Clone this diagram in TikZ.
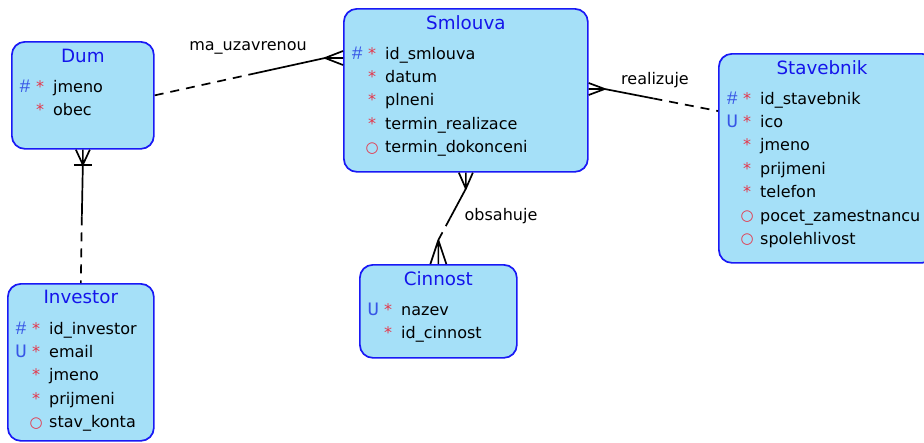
\documentclass[tikz,border=0pt]{standalone}
\usepackage{fontspec}
\setmainfont{DejaVu Sans}
\newfontfamily\keyfont{Liberation Mono}
\usetikzlibrary{calc}
\definecolor{entfill}{RGB}{165,224,248}
\definecolor{entline}{RGB}{25,25,245}
\definecolor{ttlblue}{RGB}{20,20,235}
\definecolor{keyblue}{RGB}{55,85,230}
\definecolor{mandred}{RGB}{228,55,75}
\tikzset{%
    ent/.style={draw=entline, fill=entfill, line width=1.7pt, rounded corners=13pt, anchor=north west, inner sep=0pt},
    ttl/.style={anchor=base, text=ttlblue, inner sep=0pt, font=\fontsize{18.3}{20}\selectfont},
    att/.style={anchor=base west, inner sep=0pt, font=\fontsize{16}{18}\selectfont},
    mk/.style={anchor=base west, inner sep=0pt, font=\fontsize{16}{18}\selectfont},
    lbl/.style={inner sep=1pt, font=\fontsize{16}{18}\selectfont},
    rel/.style={line width=1.7pt},
    relo/.style={line width=1.7pt, dash pattern=on 9pt off 7pt},
}
\newcommand{\pk}{\makebox[15pt]{\color{keyblue}\keyfont\fontsize{19}{19}\selectfont\#}}
\newcommand{\uk}{\makebox[15pt]{\color{keyblue}\keyfont\fontsize{19}{19}\selectfont U}}
\newcommand{\nk}{\makebox[15pt]{}}
\newcommand{\mand}{\makebox[15pt]{\color{mandred}*}}
\newcommand{\optn}{\makebox[15pt]{\color{mandred}\fontsize{15}{15}\selectfont\raisebox{0.5pt}{○}}}
% rows of one entity: #1 box name, #2 list key/text
\newcommand{\attrows}[2]{%
    \foreach \k/\t [count=\i] in {#2} {
        \node[mk] (#1-m\i) at ([xshift=6.5pt, yshift={-51pt-23.4pt*(\i-1)}]#1.north west) {\k};
        \node[att] (#1-a\i) at ([xshift=42pt, yshift={-51pt-23.4pt*(\i-1)}]#1.north west) {\t};
    }}
\newcommand{\crow}[4]{\draw[rel] (#1) -- (#2) (#1) -- ([#3]#2) (#1) -- ([#4]#2);}

\begin{document}
\begin{tikzpicture}[x=1pt, y=-1pt]
    \clip (0,0) rectangle (924,442);
    % entities
    \node[ent, minimum width=142pt, minimum height=107pt] (dum) at (11,41) {};
    \node[ent, minimum width=244pt, minimum height=163pt] (smlouva) at (343,8) {};
    \node[ent, minimum width=216pt, minimum height=209pt] (stavebnik) at (718,53) {};
    \node[ent, minimum width=146pt, minimum height=157pt] (investor) at (7,283) {};
    \node[ent, minimum width=157pt, minimum height=93pt] (cinnost) at (359,264) {};
    \node[ttl] (dum-t) at ([yshift=-21pt]dum.north) {Dum};
    \node[ttl] (smlouva-t) at ([yshift=-21pt]smlouva.north) {Smlouva};
    \node[ttl] (stavebnik-t) at ([yshift=-21pt]stavebnik.north west) [xshift=104pt] {Stavebnik};
    \node[ttl] (investor-t) at ([yshift=-20pt]investor.north) {Investor};
    \node[ttl] (cinnost-t) at ([yshift=-21pt]cinnost.north) {Cinnost};
    \attrows{dum}{\pk\mand/jmeno, \nk\mand/obec}
    \attrows{smlouva}{\pk\mand/id\_smlouva, \nk\mand/datum, \nk\mand/plneni, \nk\mand/termin\_realizace, \nk\optn/termin\_dokonceni}
    \attrows{stavebnik}{\pk\mand/id\_stavebnik, \uk\mand/ico, \nk\mand/jmeno, \nk\mand/prijmeni, \nk\mand/telefon, \nk\optn/pocet\_zamestnancu, \nk\optn/spolehlivost}
    \attrows{investor}{\pk\mand/id\_investor, \uk\mand/email, \nk\mand/jmeno, \nk\mand/prijmeni, \nk\optn/stav\_konta}
    \attrows{cinnost}{\uk\mand/nazev, \nk\mand/id\_cinnost}
    % Dum - Smlouva
    \coordinate (sm-w) at ([yshift=-50pt]smlouva.north west);
    \coordinate (sm-wt) at ([xshift=-18pt]sm-w);
    \draw[relo] (dum.east) -- ($(dum.east)!0.55!(sm-wt)$) coordinate (m1);
    \draw[rel] (m1) -- (sm-wt);
    \crow{sm-wt}{sm-w}{yshift=7pt}{yshift=-7pt}
    \node[lbl] (l-uzavr) at (248,48) {ma\_uzavrenou};
    % Smlouva - Stavebnik
    \coordinate (sm-e) at ([yshift=-81pt]smlouva.north east);
    \coordinate (sm-et) at ([xshift=16pt]sm-e);
    \coordinate (st-w) at ([yshift=-58pt]stavebnik.north west);
    \draw[rel] (sm-et) -- ($(sm-et)!0.43!(st-w)$) coordinate (m2);
    \draw[relo] (m2) -- (st-w);
    \crow{sm-et}{sm-e}{yshift=6pt}{yshift=-6pt}
    \node[lbl] (l-real) at (655,80) {realizuje};
    % Dum - Investor
    \coordinate (du-st) at ([yshift=-15pt]dum.south);
    \draw[rel] (du-st) -- ($(dum.south)!0.5!(investor.north)$) coordinate (m3);
    \draw[relo] (m3) -- (investor.north);
    \crow{du-st}{dum.south}{xshift=7pt}{xshift=-7pt}
    \draw[rel] ([xshift=-9pt]du-st) -- ([xshift=9pt]du-st);
    % Smlouva - Cinnost
    \coordinate (sm-st) at ([yshift=-16pt]smlouva.south);
    \coordinate (ci-nt) at ([yshift=24pt]cinnost.north);
    \draw[rel] (sm-st) -- ($(sm-st)!0.575!(ci-nt)$) coordinate (m4);
    \draw[relo] (m4) -- (ci-nt);
    \crow{sm-st}{smlouva.south}{xshift=7pt}{xshift=-7pt}
    \crow{ci-nt}{cinnost.north}{xshift=8pt}{xshift=-8pt}
    \node[lbl] (l-obs) at (501,216) {obsahuje};
\end{tikzpicture}
\end{document}
